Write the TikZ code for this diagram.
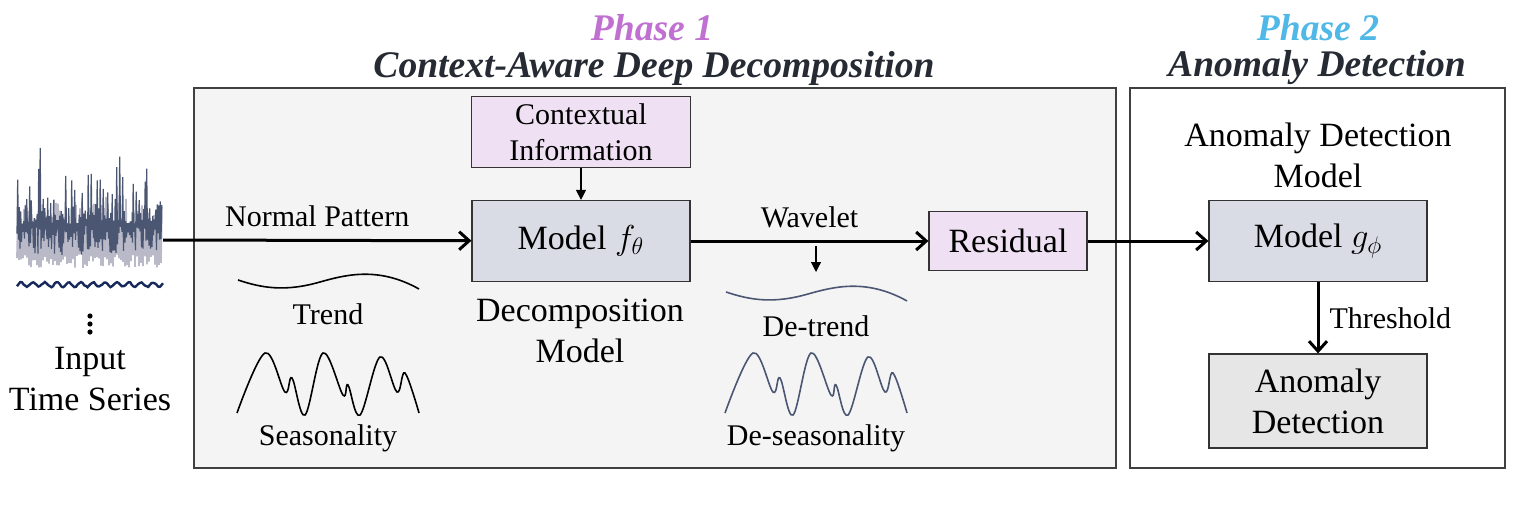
\documentclass[tikz,border=0pt]{standalone}
\usepackage{fontspec}
\setmainfont{Liberation Serif}
\usepackage{xcolor}
\usetikzlibrary{positioning,arrows.meta}

\definecolor{phaseone}{HTML}{C070D0}
\definecolor{phasetwo}{HTML}{4FB8E6}
\definecolor{titlecol}{HTML}{262A33}
\definecolor{ctxfill}{HTML}{EFE1F3}
\definecolor{modelfill}{HTML}{D9DCE4}
\definecolor{detfill}{HTML}{E6E6E6}
\definecolor{panelfill}{HTML}{F4F4F4}
\definecolor{slate}{HTML}{4A5672}
\definecolor{serlight}{HTML}{B9B9C8}
\definecolor{navy}{HTML}{17295A}

\begin{document}
\begin{tikzpicture}[x=0.5pt,y=-0.5pt,
    box/.style={draw=black!80,line width=0.6pt,align=center,inner sep=0pt,font=\fontsize{17}{20.5}\selectfont},
    panel/.style={draw=black!75,line width=0.6pt},
    lbl/.style={align=center,inner sep=0pt,font=\fontsize{15}{18}\selectfont},
    biglbl/.style={align=center,inner sep=0pt,font=\fontsize{17}{20.5}\selectfont},
    title/.style={inner sep=0pt,font=\fontsize{18.8}{21}\selectfont\bfseries\itshape},
    flow/.style={-{Straight Barb[length=5pt,width=9pt]},line width=1.5pt},
    tip/.style={-{Triangle[length=5pt,width=5pt]},line width=0.6pt},
    curve/.style={line width=0.8pt}
  ]
    \useasboundingbox (0,0) rectangle (1534,508);

    % panels
    \draw[panel,fill=panelfill] (194,88) rectangle (1116,468);
    \draw[panel,fill=white] (1130,88) rectangle (1505,468);
    \node[title,text=phaseone] (ph1) at (652,28) {Phase 1};
    \node[title,text=titlecol] (ph1t) at (654,68) {Context-Aware Deep Decomposition};
    \node[title,text=phasetwo] (ph2) at (1318,28) {Phase 2};
    \node[title,text=titlecol] (ph2t) at (1317,68) {Anomaly Detection};

    % input time series
    \pgfmathsetseed{11}
    \draw[serlight,line width=0.8pt] (17,258)
      \foreach \i in {0,...,72}{ -- ({17+2*\i},{268-rnd*14}) -- ({18+2*\i},{236-rnd*40}) };
    \draw[slate,line width=0.6pt] (17,230)
      \foreach \i in {0,...,96}{ -- ({17+1.5*\i},{255-rnd*30}) -- ({17.7+1.5*\i},{224-rnd*rnd*84}) };
    \draw[navy,line width=1.2pt] plot[domain=17:163,samples=90] (\x,{284+2.2*sin(30*\x)+rnd*1.2});
    \coordinate (tsout) at (163,240);
    \foreach \k in {316,324,332} \fill (90,\k) circle (1.3pt);
    \node[biglbl] (input) at (90,379) {Input\\Time Series};

    % phase 1
    \node[box,fill=ctxfill,minimum width=109.5pt,minimum height=35.5pt,font=\fontsize{15}{18}\selectfont] (ctx) at (581,132) {Contextual\\Information};
    \node[box,fill=modelfill,minimum width=109pt,minimum height=40.5pt] (fmod) at (581,241) {Model $f_{\theta}$};
    \node[box,fill=ctxfill,minimum width=79pt,minimum height=29.5pt] (res) at (1008,241) {Residual};
    \node[biglbl] (decomp) at (580,331) {Decomposition\\Model};

    \draw[flow] (tsout) -- node[lbl,above=6pt] (normal) {Normal Pattern} (fmod);
    \draw[tip] (ctx) -- (fmod);
    \draw[flow] (fmod) -- node[lbl,above=6pt] (wave) {Wavelet} (res);
    \coordinate (wavtop) at (816,246);
    \coordinate (wavbot) at (816,272);
    \draw[tip] (wavtop) -- (wavbot);

    % trend / seasonality
    \draw[curve] (238,280) .. controls (262,288) and (285,292) .. (320,282) .. controls (345,275) and (378,266) .. (419,289);
    \node[lbl] (trend) at (328,314) {Trend};
    \draw[curve] plot[smooth,tension=0.6] coordinates {(237,413) (265,353) (285,392) (292,378) (305,415) (323,353) (343,395) (348,385) (360,415) (380,357) (397,392) (405,373) (419,413)};
    \node[lbl] (season) at (328,438) {Seasonality};
    \begin{scope}[shift={(488,12)},slate]
      \draw[curve] (238,280) .. controls (262,288) and (285,292) .. (320,282) .. controls (345,275) and (378,266) .. (419,289);
    \end{scope}
    \node[lbl] (detrend) at (816,326) {De-trend};
    \begin{scope}[shift={(488,0)},slate]
      \draw[curve] plot[smooth,tension=0.6] coordinates {(237,413) (265,353) (285,392) (292,378) (305,415) (323,353) (343,395) (348,385) (360,415) (380,357) (397,392) (405,373) (419,413)};
    \end{scope}
    \node[lbl] (deseason) at (816,438) {De-seasonality};

    % phase 2
    \node[biglbl] (admodel) at (1318,155) {Anomaly Detection\\Model};
    \node[box,fill=modelfill,minimum width=109pt,minimum height=40.5pt] (gmod) at (1318,241) {Model $g_{\phi}$};
    \node[box,fill=detfill,minimum width=109pt,minimum height=47pt] (det) at (1318,401) {Anomaly\\Detection};
    \draw[flow] (res) -- (gmod);
    \draw[flow] (gmod) -- node[lbl,right=5pt] (thr) {Threshold} (det);
  \end{tikzpicture}
\end{document}
